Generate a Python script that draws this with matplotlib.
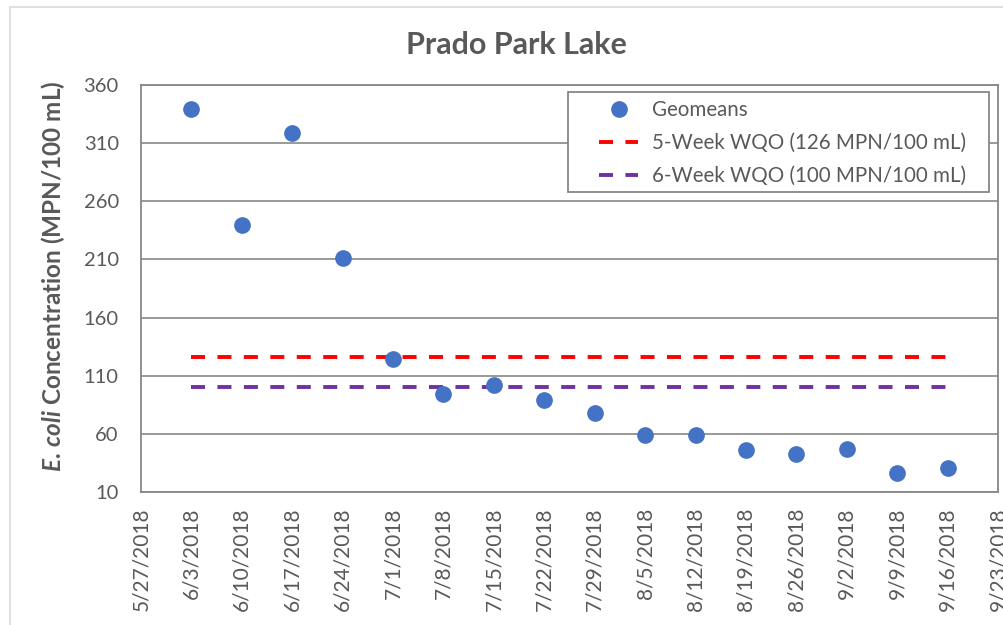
import matplotlib
matplotlib.use("Agg")
import matplotlib.pyplot as plt
from matplotlib.patches import Rectangle
import datetime as dt

plt.rcParams['font.family'] = ['Lato', 'DejaVu Sans']
plt.rcParams['mathtext.fontset'] = 'custom'
plt.rcParams['mathtext.it'] = 'Lato:italic:bold'
plt.rcParams['mathtext.rm'] = 'Lato:bold'

dates = ["2018-06-03", "2018-06-10", "2018-06-17", "2018-06-24", "2018-07-01",
         "2018-07-08", "2018-07-15", "2018-07-22", "2018-07-29", "2018-08-05",
         "2018-08-12", "2018-08-19", "2018-08-26", "2018-09-02", "2018-09-09",
         "2018-09-16"]
geomeans = [339, 240, 319, 211, 124, 94, 102, 89, 78, 59, 59, 46, 43, 47, 26, 31]
wqo5_value = 126
wqo6_value = 100
y_ticks = [10, 60, 110, 160, 210, 260, 310, 360]
x_start = "2018-05-27"
x_end = "2018-09-23"

d = [dt.datetime.strptime(s, "%Y-%m-%d") for s in dates]
xs = dt.datetime.strptime(x_start, "%Y-%m-%d")
xe = dt.datetime.strptime(x_end, "%Y-%m-%d")

W, H = 1004, 625
gray = "#595959"
fig = plt.figure(figsize=(W/100, H/100), dpi=100)
# outer chart-area border
fig.patches.append(Rectangle((10/W, -0.05), 1.1, 1.05 - 7/H, transform=fig.transFigure,
                             fill=False, edgecolor="#d9d9d9", linewidth=1.2))
ax = fig.add_axes([141/W, 1-492/H, (998-141)/W, (492-85)/H])

ax.plot(d, geomeans, linestyle="none", marker="o", markersize=11,
        color="#4472C4", label="Geomeans", zorder=3)
ax.plot([d[0], d[-1]], [wqo5_value]*2, linestyle=(0, (3.6, 3.2)), color="#FF0000",
        linewidth=2.8, label="5-Week WQO (126 MPN/100 mL)", zorder=2)
ax.plot([d[0], d[-1]], [wqo6_value]*2, linestyle=(0, (3.6, 3.2)), color="#7030A0",
        linewidth=2.8, label="6-Week WQO (100 MPN/100 mL)", zorder=2)

ax.set_xlim(xs, xe)
ax.set_ylim(10, 360)
ax.set_yticks(y_ticks)
ticks = [xs + dt.timedelta(days=7*i) for i in range(18)]
ax.set_xticks(ticks)
ax.set_xticklabels([f"{t.month}/{t.day}/{t.year}" for t in ticks], rotation=90,
                   fontsize=15, color=gray)
for lab in ax.get_yticklabels():
    lab.set_fontsize(14.5)
    lab.set_color(gray)
ax.tick_params(axis='x', length=0, pad=11)
ax.tick_params(axis='y', length=0, pad=16)
ax.grid(axis='y', color="#878787", linewidth=1.2)
ax.set_axisbelow(True)
for sp in ax.spines.values():
    sp.set_color("#878787")
    sp.set_linewidth(1.3)

ax.set_ylabel(r"$\mathit{E.}\,\mathit{coli}$ Concentration (MPN/100 mL)", fontsize=17.5,
              fontweight="bold", color=gray)
ax.yaxis.set_label_coords(53/W, 1-276/H, transform=fig.transFigure)
ax.yaxis.label.set_va("center")
fig.text(516/W, 1-45/H, "Prado Park Lake", ha="center", va="center",
         fontsize=22, fontweight="bold", color=gray)

# legend frame drawn separately for Excel-like padding
ax.add_patch(Rectangle((568/W, 1-192/H), (989-568)/W, 100/H, transform=fig.transFigure,
                       facecolor="white", edgecolor="#878787", linewidth=1.3,
                       zorder=5, clip_on=False))
leg = ax.legend(loc="upper left", bbox_to_anchor=(599/W, 1-100/H),
                bbox_transform=fig.transFigure, frameon=False,
                fontsize=14.8, handlelength=1.9, borderpad=0, labelspacing=0.63,
                handletextpad=0.7, borderaxespad=0)
leg.set_zorder(6)
for t in leg.get_texts():
    t.set_color(gray)

fig.savefig("out.png", dpi=100)
